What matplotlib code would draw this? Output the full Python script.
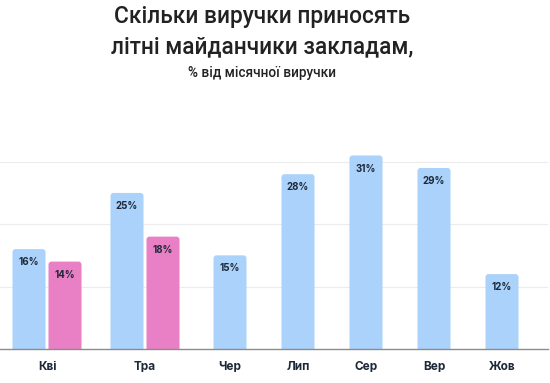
#!/usr/bin/env python3
"""Share of monthly revenue brought by summer terraces (grouped bars)."""

import matplotlib

matplotlib.use("Agg")
import matplotlib.pyplot as plt  # noqa: E402
from matplotlib.patches import FancyBboxPatch  # noqa: E402

plt.rcParams["font.family"] = ["Inter", "DejaVu Sans"]

# --------------------------------------------------------------------------- #
# Data
# --------------------------------------------------------------------------- #
months = ["Кві", "Тра", "Чер", "Лип", "Сер", "Вер", "Жов"]
blue_vals = [16, 25, 15, 28, 31, 29, 12]
pink_vals = [14, 18]  # only April and May have a second series

# layout: category centres on the pixel-like x scale
centres = [47, 145, 230, 298, 366, 434, 502]

BLUE = "#aad2fa"
PINK = "#e97fc4"
TEXT = "#1d2838"
BAR_W = 33
PAIR_GAP = 3
PX_Y = 0.16  # one pixel in y data units (% per px)


def rounded_bar(ax, x_left, height, color):
    """Bar with softly rounded top corners; bottom is clipped at the axis."""
    r = 3
    bottom = -2
    patch = FancyBboxPatch((x_left + r, bottom + r * PX_Y),
                           BAR_W - 2 * r, height - bottom - 2 * r * PX_Y,
                           boxstyle=f"round,pad={r}", mutation_aspect=PX_Y,
                           fc=color, ec="none", zorder=3, clip_on=True)
    ax.add_patch(patch)
    ax.text(x_left + BAR_W / 2, height - 1.3, f"{height}%", ha="center", va="top",
            fontsize=7, fontweight="bold", color=TEXT, zorder=4)


fig = plt.figure(figsize=(5.5, 3.83), dpi=100)
ax = fig.add_axes([0, (383 - 349) / 383, 548 / 550, (349 - 143) / 383])
ax.set_xlim(0, 548)
ax.set_ylim(0, 33)

for i, (c, v) in enumerate(zip(centres, blue_vals)):
    if i < len(pink_vals):
        rounded_bar(ax, c - BAR_W - PAIR_GAP / 2, v, BLUE)
        rounded_bar(ax, c + PAIR_GAP / 2, pink_vals[i], PINK)
    else:
        rounded_bar(ax, c - BAR_W / 2, v, BLUE)

for g in (10, 20, 30):
    ax.axhline(g, color="#ececec", lw=0.8, zorder=1)
ax.axhline(0, color="#8c8c8c", lw=1.0, zorder=5, clip_on=False)

ax.set_xticks(centres)
ax.set_xticklabels(months, fontsize=8.5, fontweight="bold", color=TEXT)
ax.tick_params(axis="x", length=0, pad=9)
ax.set_yticks([])
for s in ax.spines.values():
    s.set_visible(False)

cx = 262 / 550
title_font = dict(family=["Roboto", "DejaVu Sans"], fontweight="medium",
                  color="#222222")
fig.text(cx, 1 - 17 / 383, "Скільки виручки приносять", ha="center", va="center",
         fontsize=16.3, **title_font)
fig.text(cx, 1 - 47 / 383, "літні майданчики закладам,", ha="center", va="center",
         fontsize=16.3, **title_font)
fig.text(cx, 1 - 73 / 383, "% від місячної виручки", ha="center", va="center",
         fontsize=9.8, **title_font)

fig.savefig("out.png", dpi=100)
